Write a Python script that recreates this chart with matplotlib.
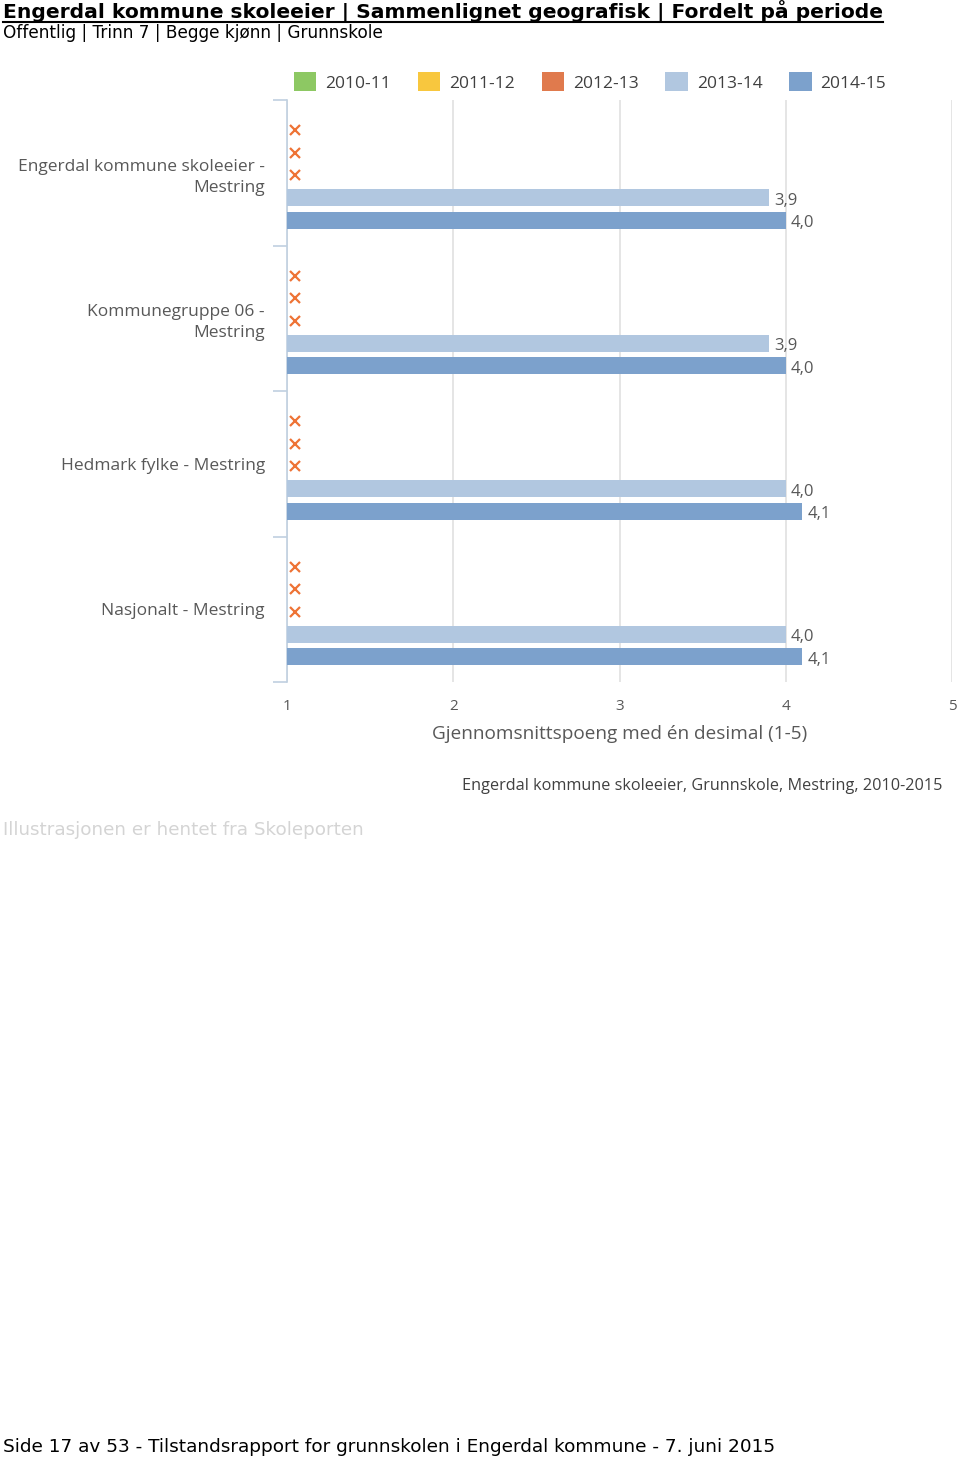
import matplotlib
matplotlib.use('Agg')
import matplotlib.pyplot as plt
from matplotlib.patches import Patch
from matplotlib.lines import Line2D
import numpy as np

# Data
categories = ['Engerdal kommune skoleeier -\nMestring', 'Kommunegruppe 06 -\nMestring',
              'Hedmark fylke - Mestring', 'Nasjonalt - Mestring']
periods = ['2010-11', '2011-12', '2012-13', '2013-14', '2014-15']
values = {
    '2010-11': [None, None, None, None],
    '2011-12': [None, None, None, None],
    '2012-13': [None, None, None, None],
    '2013-14': [3.9, 3.9, 4.0, 4.0],
    '2014-15': [4.0, 4.0, 4.1, 4.1],
}
colors = ['#8DC863', '#F8C73E', '#E07A4D', '#B1C7E0', '#7CA1CC']
x_ticks = [1, 2, 3, 4, 5]

W, H = 960, 1461
fig = plt.figure(figsize=(W / 100, H / 100), dpi=100)
fig.patch.set_facecolor('white')

chart_font = 'Open Sans'
grey = '#585858'

ax = fig.add_axes([287 / W, 1 - 682 / H, (952 - 287) / W, (682 - 100) / H])
ax.set_xlim(1, 5)
ax.set_ylim(len(categories), 0)

slot = 22.5 / 145
bar_h = 17 / 145
shift = 2.5 / 145
for k, p in enumerate(periods):
    for i, v in enumerate(values[p]):
        yc = i + 0.5 + (k - 2) * slot + shift
        if v is None:
            # missing value marker
            ax.plot(1.05, yc, marker='x', color='#EE7335', markersize=7, mew=1.6,
                    clip_on=False, zorder=4)
        else:
            ax.barh(yc, v - 1, left=1, height=bar_h, color=colors[k], zorder=3)
            ax.text(v + 0.03, yc + 0.02, f'{v:.1f}'.replace('.', ','), va='center', ha='left',
                    fontsize=12, color=grey, family=chart_font)

# axes styling
for s in ['top', 'right', 'bottom']:
    ax.spines[s].set_visible(False)
ax.spines['left'].set_color('#C0D0E0')
ax.spines['left'].set_linewidth(1.2)

ax.set_xticks(x_ticks)
ax.set_xticklabels([str(t) for t in x_ticks], fontsize=11, color=grey, family=chart_font)
ax.tick_params(axis='x', length=0, pad=12)
ax.xaxis.grid(True, color='#E0E0E0', linewidth=1.2, zorder=0)
ax.set_axisbelow(True)

ax.set_yticks([i + 0.5 for i in range(len(categories))])
ax.set_yticklabels(categories, fontsize=12.5, color=grey, family=chart_font, linespacing=1.4)
ax.tick_params(axis='y', length=0, pad=16)
ax.set_yticks(range(len(categories) + 1), minor=True)
ax.tick_params(axis='y', which='minor', length=10, color='#C0D0E0', width=1.2)

ax.set_xlabel('Gjennomsnittspoeng med én desimal (1-5)', fontsize=13.7, color=grey,
              family=chart_font, labelpad=8)

# legend
handles = [Patch(facecolor=c, edgecolor='none', label=p) for p, c in zip(periods, colors)]
fig.legend(handles=handles, loc='center', bbox_to_anchor=(590 / W, 1 - 82 / H), ncol=5,
           frameon=False, handlelength=1.3, handleheight=1.25, columnspacing=1.55,
           handletextpad=0.5, prop={'family': chart_font, 'size': 12.5},
           labelcolor='#404040')

# source text
fig.text(942 / W, 1 - 786 / H, 'Engerdal kommune skoleeier, Grunnskole, Mestring, 2010-2015',
         ha='right', va='center', fontsize=11.7, color='#404040', family=chart_font)

# page texts
title = fig.text(3 / W, 1 - 12 / H, 'Engerdal kommune skoleeier | Sammenlignet geografisk | Fordelt på periode',
                 ha='left', va='center', fontsize=14.6, fontweight='bold', color='black',
                 family='DejaVu Sans')
fig.text(3 / W, 1 - 33 / H, 'Offentlig | Trinn 7 | Begge kjønn | Grunnskole',
         ha='left', va='center', fontsize=12.2, color='black', family='DejaVu Sans')
fig.text(3 / W, 1 - 830 / H, 'Illustrasjonen er hentet fra Skoleporten',
         ha='left', va='center', fontsize=13.2, color='#D4D4D4', family='DejaVu Sans')
fig.text(3 / W, 1 - 1447 / H, 'Side 17 av 53 - Tilstandsrapport for grunnskolen i Engerdal kommune - 7. juni 2015',
         ha='left', va='center', fontsize=13.3, color='black', family='DejaVu Sans')

# underline for title
fig.canvas.draw()
bb = title.get_window_extent()
x0, x1 = bb.x0 / W, bb.x1 / W
fig.add_artist(Line2D([x0, x1], [1 - 22 / H, 1 - 22 / H], color='black', linewidth=1.5))

fig.savefig('out.png', dpi=100, facecolor='white')
